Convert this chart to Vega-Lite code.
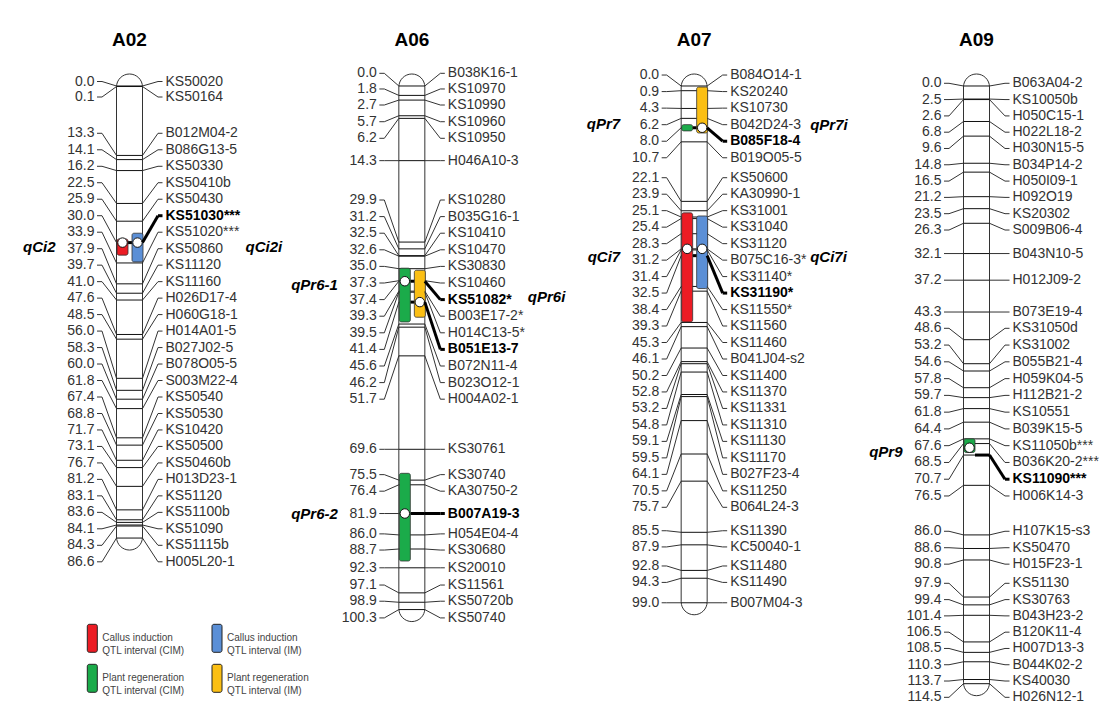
{
"$schema": "https://vega.github.io/schema/vega-lite/v6.json",
"width": 1106, "height": 720, "padding": 0, "autosize": {"type": "none"},
"background": "white",
"config": {"view": {"stroke": null}, "text": {"font": "Liberation Sans"}},
"datasets": {
"chrom": [{"c":"A02","start":0,"len":86.6},{"c":"A06","start":0,"len":100.3},{"c":"A07","start":0,"len":99.0},{"c":"A09","start":0,"len":114.5}],
"markers": [
{"c":"A02","p":0.0,"l":-0.86,"n":"KS50020"},
{"c":"A02","p":0.1,"l":2.11,"n":"KS50164"},
{"c":"A02","p":13.3,"l":9.06,"n":"B012M04-2"},
{"c":"A02","p":14.1,"l":12.22,"n":"B086G13-5"},
{"c":"A02","p":16.2,"l":15.38,"n":"KS50330"},
{"c":"A02","p":22.5,"l":18.53,"n":"KS50410b"},
{"c":"A02","p":25.9,"l":21.69,"n":"KS50430"},
{"c":"A02","p":30.0,"l":24.85,"n":"KS51030***","b":true},
{"c":"A02","p":33.9,"l":28.01,"n":"KS51020***"},
{"c":"A02","p":37.9,"l":31.17,"n":"KS50860"},
{"c":"A02","p":39.7,"l":34.32,"n":"KS11120"},
{"c":"A02","p":41.0,"l":37.48,"n":"KS11160"},
{"c":"A02","p":47.6,"l":40.64,"n":"H026D17-4"},
{"c":"A02","p":48.5,"l":43.79,"n":"H060G18-1"},
{"c":"A02","p":56.0,"l":46.95,"n":"H014A01-5"},
{"c":"A02","p":58.3,"l":50.11,"n":"B027J02-5"},
{"c":"A02","p":60.0,"l":53.26,"n":"B078O05-5"},
{"c":"A02","p":61.8,"l":56.42,"n":"S003M22-4"},
{"c":"A02","p":67.4,"l":59.58,"n":"KS50540"},
{"c":"A02","p":68.8,"l":62.74,"n":"KS50530"},
{"c":"A02","p":71.7,"l":65.89,"n":"KS10420"},
{"c":"A02","p":73.1,"l":69.05,"n":"KS50500"},
{"c":"A02","p":76.7,"l":72.21,"n":"KS50460b"},
{"c":"A02","p":81.2,"l":75.36,"n":"H013D23-1"},
{"c":"A02","p":83.1,"l":78.52,"n":"KS51120"},
{"c":"A02","p":83.6,"l":81.68,"n":"KS51100b"},
{"c":"A02","p":84.1,"l":84.83,"n":"KS51090"},
{"c":"A02","p":84.3,"l":87.99,"n":"KS51115b"},
{"c":"A02","p":86.6,"l":91.15,"n":"H005L20-1"},
{"c":"A06","p":0.0,"l":-2.43,"n":"B038K16-1"},
{"c":"A06","p":1.8,"l":0.57,"n":"KS10970"},
{"c":"A06","p":2.7,"l":3.64,"n":"KS10990"},
{"c":"A06","p":5.7,"l":6.84,"n":"KS10960"},
{"c":"A06","p":6.2,"l":10.02,"n":"KS10950"},
{"c":"A06","p":14.3,"l":14.3,"n":"H046A10-3"},
{"c":"A06","p":29.9,"l":21.84,"n":"KS10280"},
{"c":"A06","p":31.2,"l":25.02,"n":"B035G16-1"},
{"c":"A06","p":32.5,"l":28.2,"n":"KS10410"},
{"c":"A06","p":32.6,"l":31.38,"n":"KS10470"},
{"c":"A06","p":35.0,"l":34.56,"n":"KS30830"},
{"c":"A06","p":37.3,"l":37.74,"n":"KS10460"},
{"c":"A06","p":37.4,"l":40.92,"n":"KS51082*","b":true},
{"c":"A06","p":39.3,"l":44.1,"n":"B003E17-2*"},
{"c":"A06","p":39.5,"l":47.28,"n":"H014C13-5*"},
{"c":"A06","p":41.4,"l":50.46,"n":"B051E13-7","b":true},
{"c":"A06","p":45.6,"l":53.64,"n":"B072N11-4"},
{"c":"A06","p":46.2,"l":56.82,"n":"B023O12-1"},
{"c":"A06","p":51.7,"l":60.0,"n":"H004A02-1"},
{"c":"A06","p":69.6,"l":69.6,"n":"KS30761"},
{"c":"A06","p":75.5,"l":74.45,"n":"KS30740"},
{"c":"A06","p":76.4,"l":77.62,"n":"KA30750-2"},
{"c":"A06","p":81.9,"l":81.9,"n":"B007A19-3","b":true},
{"c":"A06","p":86.0,"l":85.8,"n":"H054E04-4"},
{"c":"A06","p":88.7,"l":88.9,"n":"KS30680"},
{"c":"A06","p":92.3,"l":92.3,"n":"KS20010"},
{"c":"A06","p":97.1,"l":95.6,"n":"KS11561"},
{"c":"A06","p":98.9,"l":98.7,"n":"KS50720b"},
{"c":"A06","p":100.3,"l":101.9,"n":"KS50740"},
{"c":"A07","p":0.0,"l":-2.1,"n":"B084O14-1"},
{"c":"A07","p":0.9,"l":1.07,"n":"KS20240"},
{"c":"A07","p":4.3,"l":4.24,"n":"KS10730"},
{"c":"A07","p":6.2,"l":7.41,"n":"B042D24-3"},
{"c":"A07","p":8.0,"l":10.58,"n":"B085F18-4","b":true},
{"c":"A07","p":10.7,"l":13.75,"n":"B019O05-5"},
{"c":"A07","p":22.1,"l":17.57,"n":"KS50600"},
{"c":"A07","p":23.9,"l":20.73,"n":"KA30990-1"},
{"c":"A07","p":25.1,"l":23.88,"n":"KS31001"},
{"c":"A07","p":25.4,"l":27.04,"n":"KS31040"},
{"c":"A07","p":28.3,"l":30.2,"n":"KS31120"},
{"c":"A07","p":31.2,"l":33.36,"n":"B075C16-3*"},
{"c":"A07","p":31.4,"l":36.51,"n":"KS31140*"},
{"c":"A07","p":32.5,"l":39.67,"n":"KS31190*","b":true},
{"c":"A07","p":38.4,"l":42.83,"n":"KS11550*"},
{"c":"A07","p":39.3,"l":45.98,"n":"KS11560"},
{"c":"A07","p":45.3,"l":49.14,"n":"KS11460"},
{"c":"A07","p":46.1,"l":52.3,"n":"B041J04-s2"},
{"c":"A07","p":50.2,"l":55.46,"n":"KS11400"},
{"c":"A07","p":52.8,"l":58.61,"n":"KS11370"},
{"c":"A07","p":53.2,"l":61.77,"n":"KS11331"},
{"c":"A07","p":54.8,"l":64.93,"n":"KS11310"},
{"c":"A07","p":59.1,"l":68.08,"n":"KS11130"},
{"c":"A07","p":59.5,"l":71.24,"n":"KS11170"},
{"c":"A07","p":64.1,"l":74.4,"n":"B027F23-4"},
{"c":"A07","p":70.5,"l":77.56,"n":"KS11250"},
{"c":"A07","p":75.7,"l":80.71,"n":"B064L24-3"},
{"c":"A07","p":85.5,"l":85.2,"n":"KS11390"},
{"c":"A07","p":87.9,"l":88.3,"n":"KC50040-1"},
{"c":"A07","p":92.8,"l":91.95,"n":"KS11480"},
{"c":"A07","p":94.3,"l":95.1,"n":"KS11490"},
{"c":"A07","p":99.0,"l":99.0,"n":"B007M04-3"},
{"c":"A09","p":0.0,"l":-0.52,"n":"B063A04-2"},
{"c":"A09","p":2.5,"l":2.6,"n":"KS10050b"},
{"c":"A09","p":2.6,"l":5.73,"n":"H050C15-1"},
{"c":"A09","p":6.8,"l":8.85,"n":"H022L18-2"},
{"c":"A09","p":9.6,"l":11.97,"n":"H030N15-5"},
{"c":"A09","p":14.8,"l":15.09,"n":"B034P14-2"},
{"c":"A09","p":16.5,"l":18.22,"n":"H050I09-1"},
{"c":"A09","p":21.2,"l":21.34,"n":"H092O19"},
{"c":"A09","p":23.5,"l":24.46,"n":"KS20302"},
{"c":"A09","p":26.3,"l":27.59,"n":"S009B06-4"},
{"c":"A09","p":32.1,"l":32.1,"n":"B043N10-5"},
{"c":"A09","p":37.2,"l":37.2,"n":"H012J09-2"},
{"c":"A09","p":43.3,"l":43.3,"n":"B073E19-4"},
{"c":"A09","p":48.6,"l":46.42,"n":"KS31050d"},
{"c":"A09","p":53.2,"l":49.63,"n":"KS31002"},
{"c":"A09","p":54.6,"l":52.84,"n":"B055B21-4"},
{"c":"A09","p":57.8,"l":56.06,"n":"H059K04-5"},
{"c":"A09","p":59.7,"l":59.27,"n":"H112B21-2"},
{"c":"A09","p":61.8,"l":62.48,"n":"KS10551"},
{"c":"A09","p":64.4,"l":65.69,"n":"B039K15-5"},
{"c":"A09","p":67.6,"l":68.9,"n":"KS11050b***"},
{"c":"A09","p":68.5,"l":72.12,"n":"B036K20-2***"},
{"c":"A09","p":70.7,"l":75.33,"n":"KS11090***","b":true},
{"c":"A09","p":76.5,"l":78.54,"n":"H006K14-3"},
{"c":"A09","p":86.0,"l":85.3,"n":"H107K15-s3"},
{"c":"A09","p":88.6,"l":88.45,"n":"KS50470"},
{"c":"A09","p":90.8,"l":91.6,"n":"H015F23-1"},
{"c":"A09","p":97.9,"l":95.27,"n":"KS51130"},
{"c":"A09","p":99.4,"l":98.39,"n":"KS30763"},
{"c":"A09","p":101.4,"l":101.51,"n":"B043H23-2"},
{"c":"A09","p":106.5,"l":104.63,"n":"B120K11-4"},
{"c":"A09","p":108.5,"l":107.75,"n":"H007D13-3"},
{"c":"A09","p":110.3,"l":110.87,"n":"B044K02-2"},
{"c":"A09","p":113.7,"l":113.99,"n":"KS40030"},
{"c":"A09","p":114.5,"l":117.11,"n":"H026N12-1"}
],
"qtl": [
{"c":"A02","n":"qCi2","s":"L","col":"#ec1c24","y0":29.3,"y1":32.4,"pk":30.0,"ly":30.8},
{"c":"A02","n":"qCi2i","s":"R","col":"#5b8fd6","y0":28.2,"y1":33.7,"pk":30.0,"ly":30.8},
{"c":"A06","n":"qPr6-1","s":"L","col":"#1bab4a","y0":34.9,"y1":45.2,"pk":37.4,"ly":38.1},
{"c":"A06","n":"qPr6i","s":"R","col":"#fbbf14","y0":35.3,"y1":44.3,"pk":41.4,"ly":40.4},
{"c":"A06","n":"qPr6-2","s":"L","col":"#1bab4a","y0":74.2,"y1":91.0,"pk":81.9,"ly":82.0},
{"c":"A07","n":"qPr7","s":"L","col":"#1bab4a","y0":7.4,"y1":8.6,"pk":null,"ly":7.2},
{"c":"A07","n":"qPr7i","s":"R","col":"#fbbf14","y0":0.2,"y1":9.0,"pk":8.0,"ly":7.5},
{"c":"A07","n":"qCi7","s":"L","col":"#ec1c24","y0":24.3,"y1":45.2,"pk":31.2,"ly":32.8},
{"c":"A07","n":"qCi7i","s":"R","col":"#5b8fd6","y0":24.9,"y1":38.8,"pk":31.2,"ly":32.8},
{"c":"A09","n":"qPr9","s":"L","col":"#1bab4a","y0":67.6,"y1":70.2,"pk":69.3,"ly":70.1}
],
"legend": [
{"col":0,"row":0,"color":"#ec1c24","t":"Callus induction\nQTL interval (CIM)"},
{"col":1,"row":0,"color":"#5b8fd6","t":"Callus induction\nQTL interval (IM)"},
{"col":0,"row":1,"color":"#1bab4a","t":"Plant regeneration\nQTL interval (CIM)"},
{"col":1,"row":1,"color":"#fbbf14","t":"Plant regeneration\nQTL interval (IM)"}
]
},
"resolve": {"scale": {"x": "independent", "y": "independent"}},
"layer": [
{
"encoding": {"x": {"field": "c", "type": "nominal", "axis": null, "scale": {"type": "point", "domain": ["A02","A06","A07","A09"], "range": [129.5, 976.5], "padding": 0}}},
"layer": [
{"data": {"name": "chrom"},
 "mark": {"type": "bar", "width": 26, "cornerRadius": 13, "fill": "white", "stroke": "#333", "strokeWidth": 1, "yOffset": -12, "y2Offset": 12},
 "encoding": {"y": {"field": "start", "type": "quantitative", "axis": null, "scale": {"domain": [-16.475, 121.456], "reverse": true, "nice": false, "zero": false}}, "y2": {"field": "len"}}},
{"data": {"name": "markers"},
 "mark": {"type": "rule", "xOffset": -13, "x2Offset": 13, "stroke": "#111", "strokeWidth": 1},
 "encoding": {"x2": {"field": "c"}, "y": {"field": "p", "type": "quantitative", "axis": null, "scale": {"domain": [-16.475, 121.456], "reverse": true, "nice": false, "zero": false}}}},
{"data": {"name": "markers"},
 "transform": [{"filter": "datum.b"}],
 "mark": {"type": "rule", "xOffset": -1.5, "x2Offset": 13, "stroke": "#000", "strokeWidth": 3},
 "encoding": {"x2": {"field": "c"}, "y": {"field": "p", "type": "quantitative", "axis": null, "scale": {"domain": [-16.475, 121.456], "reverse": true, "nice": false, "zero": false}}}},
{"data": {"name": "qtl"},
 "transform": [{"filter": "datum.s == 'L'"}],
 "mark": {"type": "bar", "width": 11, "xOffset": -7, "cornerRadius": 2, "stroke": "#333", "strokeWidth": 0.8},
 "encoding": {"y": {"field": "y0", "type": "quantitative", "axis": null, "scale": {"domain": [-16.475, 121.456], "reverse": true, "nice": false, "zero": false}}, "y2": {"field": "y1"}, "fill": {"field": "col", "type": "nominal", "scale": null}}},
{"data": {"name": "qtl"},
 "transform": [{"filter": "datum.s == 'R'"}],
 "mark": {"type": "bar", "width": 11, "xOffset": 8, "cornerRadius": 2, "stroke": "#333", "strokeWidth": 0.8},
 "encoding": {"y": {"field": "y0", "type": "quantitative", "axis": null, "scale": {"domain": [-16.475, 121.456], "reverse": true, "nice": false, "zero": false}}, "y2": {"field": "y1"}, "fill": {"field": "col", "type": "nominal", "scale": null}}},
{"data": {"name": "qtl"},
 "transform": [{"filter": "datum.s == 'L' && datum.pk != null"}],
 "mark": {"type": "point", "filled": true, "fill": "white", "stroke": "#111", "strokeWidth": 1, "size": 90, "opacity": 1, "xOffset": -7},
 "encoding": {"y": {"field": "pk", "type": "quantitative", "axis": null, "scale": {"domain": [-16.475, 121.456], "reverse": true, "nice": false, "zero": false}}}},
{"data": {"name": "qtl"},
 "transform": [{"filter": "datum.s == 'R' && datum.pk != null"}],
 "mark": {"type": "point", "filled": true, "fill": "white", "stroke": "#111", "strokeWidth": 1, "size": 90, "opacity": 1, "xOffset": 8},
 "encoding": {"y": {"field": "pk", "type": "quantitative", "axis": null, "scale": {"domain": [-16.475, 121.456], "reverse": true, "nice": false, "zero": false}}}},
{"data": {"name": "markers"},
 "mark": {"type": "rule", "xOffset": -32.5, "x2Offset": -27.5, "stroke": "#333", "strokeWidth": 1},
 "encoding": {"x2": {"field": "c"}, "y": {"field": "l", "type": "quantitative", "axis": null, "scale": {"domain": [-16.475, 121.456], "reverse": true, "nice": false, "zero": false}}}},
{"data": {"name": "markers"},
 "mark": {"type": "rule", "xOffset": -27.5, "x2Offset": -13, "stroke": "#333", "strokeWidth": 1},
 "encoding": {"x2": {"field": "c"}, "y": {"field": "l", "type": "quantitative", "axis": null, "scale": {"domain": [-16.475, 121.456], "reverse": true, "nice": false, "zero": false}}, "y2": {"field": "p"}}},
{"data": {"name": "markers"},
 "transform": [{"filter": "!datum.b"}],
 "mark": {"type": "rule", "xOffset": 13, "x2Offset": 28.5, "stroke": "#333", "strokeWidth": 1},
 "encoding": {"x2": {"field": "c"}, "y": {"field": "p", "type": "quantitative", "axis": null, "scale": {"domain": [-16.475, 121.456], "reverse": true, "nice": false, "zero": false}}, "y2": {"field": "l"}}},
{"data": {"name": "markers"},
 "transform": [{"filter": "!datum.b"}],
 "mark": {"type": "rule", "xOffset": 28.5, "x2Offset": 33, "stroke": "#333", "strokeWidth": 1},
 "encoding": {"x2": {"field": "c"}, "y": {"field": "l", "type": "quantitative", "axis": null, "scale": {"domain": [-16.475, 121.456], "reverse": true, "nice": false, "zero": false}}}},
{"data": {"name": "markers"},
 "transform": [{"filter": "datum.b"}],
 "mark": {"type": "rule", "xOffset": 13, "x2Offset": 28.5, "stroke": "#000", "strokeWidth": 3},
 "encoding": {"x2": {"field": "c"}, "y": {"field": "p", "type": "quantitative", "axis": null, "scale": {"domain": [-16.475, 121.456], "reverse": true, "nice": false, "zero": false}}, "y2": {"field": "l"}}},
{"data": {"name": "markers"},
 "transform": [{"filter": "datum.b"}],
 "mark": {"type": "rule", "xOffset": 28.5, "x2Offset": 33, "stroke": "#000", "strokeWidth": 3},
 "encoding": {"x2": {"field": "c"}, "y": {"field": "l", "type": "quantitative", "axis": null, "scale": {"domain": [-16.475, 121.456], "reverse": true, "nice": false, "zero": false}}}},
{"data": {"name": "markers"},
 "mark": {"type": "text", "align": "right", "baseline": "middle", "dx": -35, "fontSize": 14, "fill": "#333"},
 "encoding": {"y": {"field": "l", "type": "quantitative", "axis": null, "scale": {"domain": [-16.475, 121.456], "reverse": true, "nice": false, "zero": false}}, "text": {"field": "p", "type": "quantitative", "format": ".1f"}}},
{"data": {"name": "markers"},
 "transform": [{"filter": "!datum.b"}],
 "mark": {"type": "text", "align": "left", "baseline": "middle", "dx": 36, "fontSize": 14, "fill": "#333"},
 "encoding": {"y": {"field": "l", "type": "quantitative", "axis": null, "scale": {"domain": [-16.475, 121.456], "reverse": true, "nice": false, "zero": false}}, "text": {"field": "n"}}},
{"data": {"name": "markers"},
 "transform": [{"filter": "datum.b"}],
 "mark": {"type": "text", "align": "left", "baseline": "middle", "dx": 36, "fontSize": 14, "fontWeight": "bold", "fill": "#000"},
 "encoding": {"y": {"field": "l", "type": "quantitative", "axis": null, "scale": {"domain": [-16.475, 121.456], "reverse": true, "nice": false, "zero": false}}, "text": {"field": "n"}}},
{"data": {"name": "qtl"},
 "transform": [{"filter": "datum.s == 'L'"}],
 "mark": {"type": "text", "align": "right", "baseline": "middle", "dx": -74, "fontSize": 15, "fontWeight": "bold", "fontStyle": "italic", "fill": "#000"},
 "encoding": {"y": {"field": "ly", "type": "quantitative", "axis": null, "scale": {"domain": [-16.475, 121.456], "reverse": true, "nice": false, "zero": false}}, "text": {"field": "n"}}},
{"data": {"name": "qtl"},
 "transform": [{"filter": "datum.s == 'R'"}],
 "mark": {"type": "text", "align": "left", "baseline": "middle", "dx": 116, "fontSize": 15, "fontWeight": "bold", "fontStyle": "italic", "fill": "#000"},
 "encoding": {"y": {"field": "ly", "type": "quantitative", "axis": null, "scale": {"domain": [-16.475, 121.456], "reverse": true, "nice": false, "zero": false}}, "text": {"field": "n"}}},
{"data": {"name": "chrom"},
 "mark": {"type": "text", "align": "center", "baseline": "middle", "dy": -46, "fontSize": 19, "fontWeight": "bold", "fill": "#000"},
 "encoding": {"y": {"field": "start", "type": "quantitative", "axis": null, "scale": {"domain": [-16.475, 121.456], "reverse": true, "nice": false, "zero": false}}, "text": {"field": "c"}}}
]
},
{
"data": {"name": "legend"},
"encoding": {
 "x": {"field": "col", "type": "quantitative", "axis": null, "scale": {"domain": [0, 1], "range": [92.3, 217], "nice": false, "zero": false}},
 "y": {"field": "row", "type": "quantitative", "axis": null, "scale": {"domain": [0, 1], "range": [638.3, 678.3], "nice": false, "zero": false}}
},
"layer": [
{"mark": {"type": "rect", "xOffset": -5, "x2Offset": 5, "yOffset": -14, "y2Offset": 14, "cornerRadius": 2, "stroke": "#222", "strokeWidth": 1},
 "encoding": {"x2": {"field": "col"}, "y2": {"field": "row"}, "fill": {"field": "color", "type": "nominal", "scale": null}}},
{"mark": {"type": "text", "align": "left", "baseline": "middle", "dx": 10, "fontSize": 10, "lineHeight": 12.7, "lineBreak": "\n", "fill": "#444"},
 "encoding": {"text": {"field": "t"}}}
]
}
]
}
